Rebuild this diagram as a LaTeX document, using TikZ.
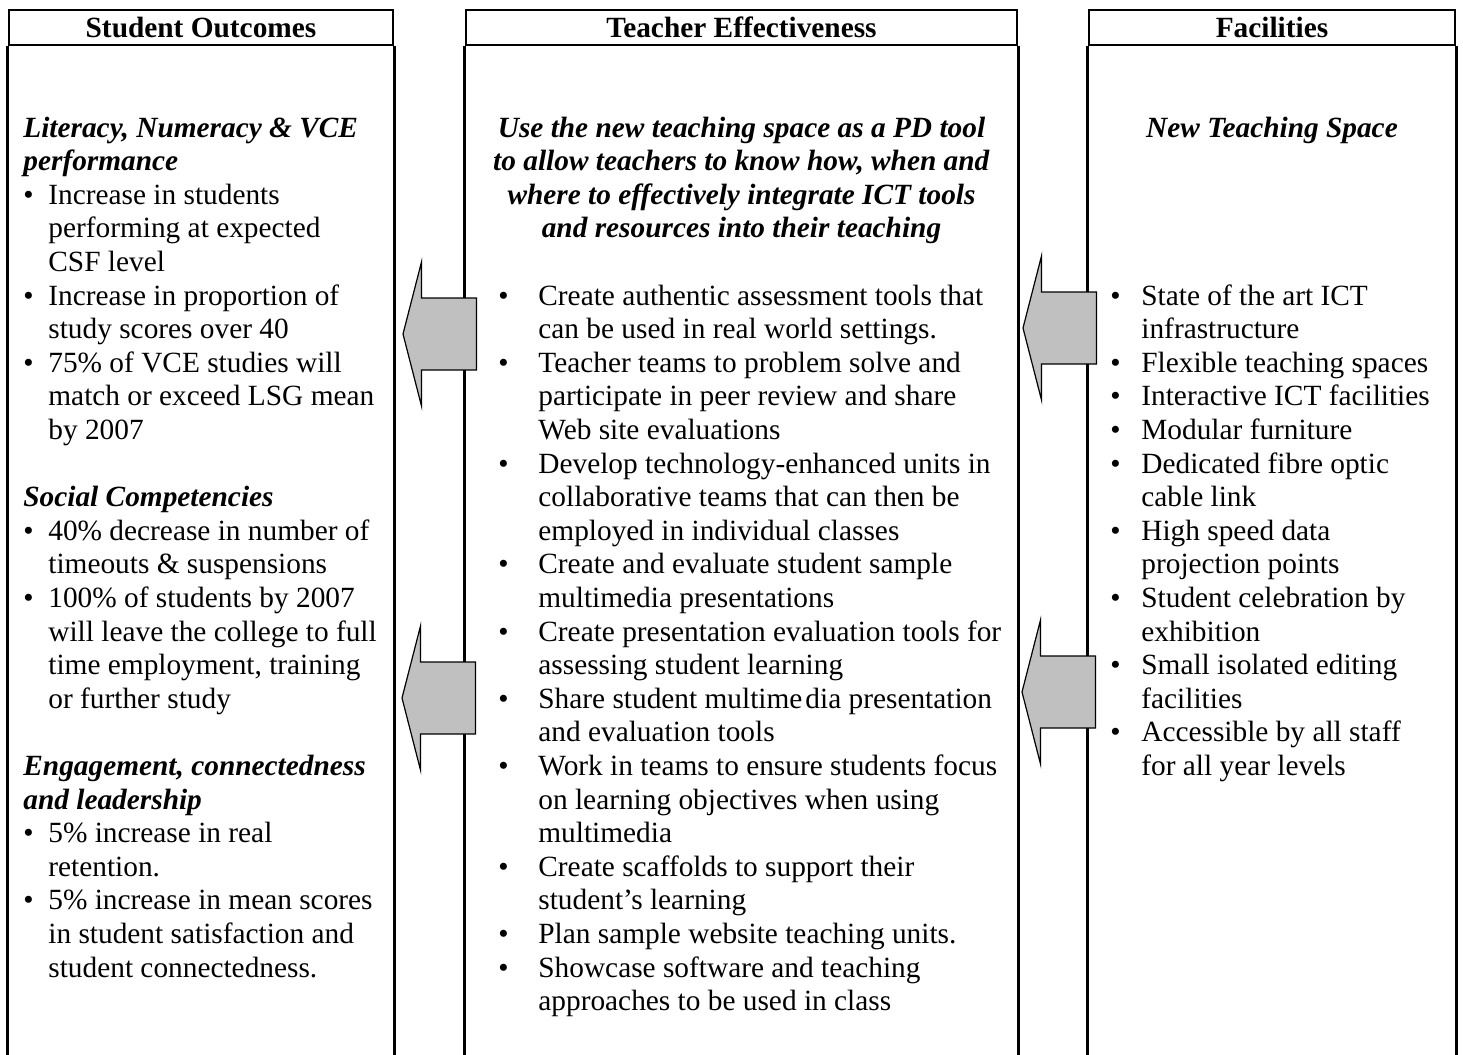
\documentclass[tikz,border=0pt]{standalone}
\usepackage{fontspec}
\setmainfont{Liberation Serif}

\definecolor{arrowgray}{RGB}{192,192,192}

\newcommand{\bodysize}{\fontsize{14.67}{16.8}\selectfont}
\newcommand{\subhead}[1]{\textbf{\textit{#1}}}
\newcommand{\bulletat}[1]{\makebox[#1][l]{\textbullet}}
\newcommand{\indentby}[1]{\hspace*{#1}}

\tikzset{
    boxline/.style={line width=1.35pt},
    head/.style={draw, boxline, rectangle, inner sep=0pt, minimum height=17.5pt, font=\bodysize\bfseries},
    column/.style={inner sep=0pt, anchor=base west},
    blockarrow/.pic={
        \draw[fill=arrowgray, line width=0.6pt] (0,0) -- (18.5,-72) -- (18.5,-36) -- (73.5,-36)
            -- (73.5,36) -- (18.5,36) -- (18.5,72) -- cycle;
    }
}

\begin{document}
\begin{tikzpicture}[x=0.5pt, y=-0.5pt, every node/.style={font=\bodysize}]
    \useasboundingbox (0,0) rectangle (1463,1055);
    \coordinate (bot) at (0,1075);

    % column headers
    \node[head, minimum width=192pt] (so) at (201,27.5) {Student Outcomes};
    \node[head, minimum width=275.5pt] (te) at (741.5,27.5) {Teacher Effectiveness};
    \node[head, minimum width=183pt] (fa) at (1272,27.5) {Facilities};

    % sides of the columns run off the bottom
    \foreach \c in {so,te,fa} {
        \draw[boxline] (\c.south west) -- (\c.south west |- bot);
        \draw[boxline] (\c.south east) -- (\c.south east |- bot);
    }

    % student outcomes
    \node[column] (sotext) at (23,137) {\begin{tabular}[t]{@{}l@{}}
        \subhead{Literacy, Numeracy \& VCE}\\
        \subhead{performance}\\
        \bulletat{12.5pt}Increase in students\\
        \indentby{12.5pt}performing at expected\\
        \indentby{12.5pt}CSF level\\
        \bulletat{12.5pt}Increase in proportion of\\
        \indentby{12.5pt}study scores over 40\\
        \bulletat{12.5pt}75\% of VCE studies will\\
        \indentby{12.5pt}match or exceed LSG mean\\
        \indentby{12.5pt}by 2007\\
        \\
        \subhead{Social Competencies}\\
        \bulletat{12.5pt}40\% decrease in number of\\
        \indentby{12.5pt}timeouts \& suspensions\\
        \bulletat{12.5pt}100\% of students by 2007\\
        \indentby{12.5pt}will leave the college to full\\
        \indentby{12.5pt}time employment, training\\
        \indentby{12.5pt}or further study\\
        \\
        \subhead{Engagement, connectedness}\\
        \subhead{and leadership}\\
        \bulletat{12.5pt}5\% increase in real\\
        \indentby{12.5pt}retention.\\
        \bulletat{12.5pt}5\% increase in mean scores\\
        \indentby{12.5pt}in student satisfaction and\\
        \indentby{12.5pt}student connectedness.
    \end{tabular}};

    % teacher effectiveness
    \node[anchor=base, inner sep=0pt] (tehead) at (741.5,137) {\begin{tabular}[t]{@{}c@{}}
        \subhead{Use the new teaching space as a PD tool}\\
        \subhead{to allow teachers to know how, when and}\\
        \subhead{where to effectively integrate ICT tools}\\
        \subhead{and resources into their teaching}
    \end{tabular}};
    \node[column] (tetext) at (498,305) {\begin{tabular}[t]{@{}l@{}}
        \bulletat{20pt}Create authentic assessment tools that\\
        \indentby{20pt}can be used in real world settings.\\
        \bulletat{20pt}Teacher teams to problem solve and\\
        \indentby{20pt}participate in peer review and share\\
        \indentby{20pt}Web site evaluations\\
        \bulletat{20pt}Develop technology-enhanced units in\\
        \indentby{20pt}collaborative teams that can then be\\
        \indentby{20pt}employed in individual classes\\
        \bulletat{20pt}Create and evaluate student sample\\
        \indentby{20pt}multimedia presentations\\
        \bulletat{20pt}Create presentation evaluation tools for\\
        \indentby{20pt}assessing student learning\\
        \bulletat{20pt}Share student multime\kern1.5pt dia presentation\\
        \indentby{20pt}and evaluation tools\\
        \bulletat{20pt}Work in teams to ensure students focus\\
        \indentby{20pt}on learning objectives when using\\
        \indentby{20pt}multimedia\\
        \bulletat{20pt}Create scaffolds to support their\\
        \indentby{20pt}student's learning\\
        \bulletat{20pt}Plan sample website teaching units.\\
        \bulletat{20pt}Showcase software and teaching\\
        \indentby{20pt}approaches to be used in class
    \end{tabular}};

    % facilities
    \node[anchor=base, inner sep=0pt] (fahead) at (1272,137) {\subhead{New Teaching Space}};
    \node[column] (fatext) at (1110,305) {\begin{tabular}[t]{@{}l@{}}
        \bulletat{15.5pt}State of the art ICT\\
        \indentby{15.5pt}infrastructure\\
        \bulletat{15.5pt}Flexible teaching spaces\\
        \bulletat{15.5pt}Interactive ICT facilities\\
        \bulletat{15.5pt}Modular furniture\\
        \bulletat{15.5pt}Dedicated fibre optic\\
        \indentby{15.5pt}cable link\\
        \bulletat{15.5pt}High speed data\\
        \indentby{15.5pt}projection points\\
        \bulletat{15.5pt}Student celebration by\\
        \indentby{15.5pt}exhibition\\
        \bulletat{15.5pt}Small isolated editing\\
        \indentby{15.5pt}facilities\\
        \bulletat{15.5pt}Accessible by all staff\\
        \indentby{15.5pt}for all year levels
    \end{tabular}};

    % arrows between the columns
    \pic (up1) at (403,334) {blockarrow};
    \pic (lo1) at (402,698) {blockarrow};
    \pic (up2) at (1023,328) {blockarrow};
    \pic (lo2) at (1022,692) {blockarrow};
\end{tikzpicture}
\end{document}
